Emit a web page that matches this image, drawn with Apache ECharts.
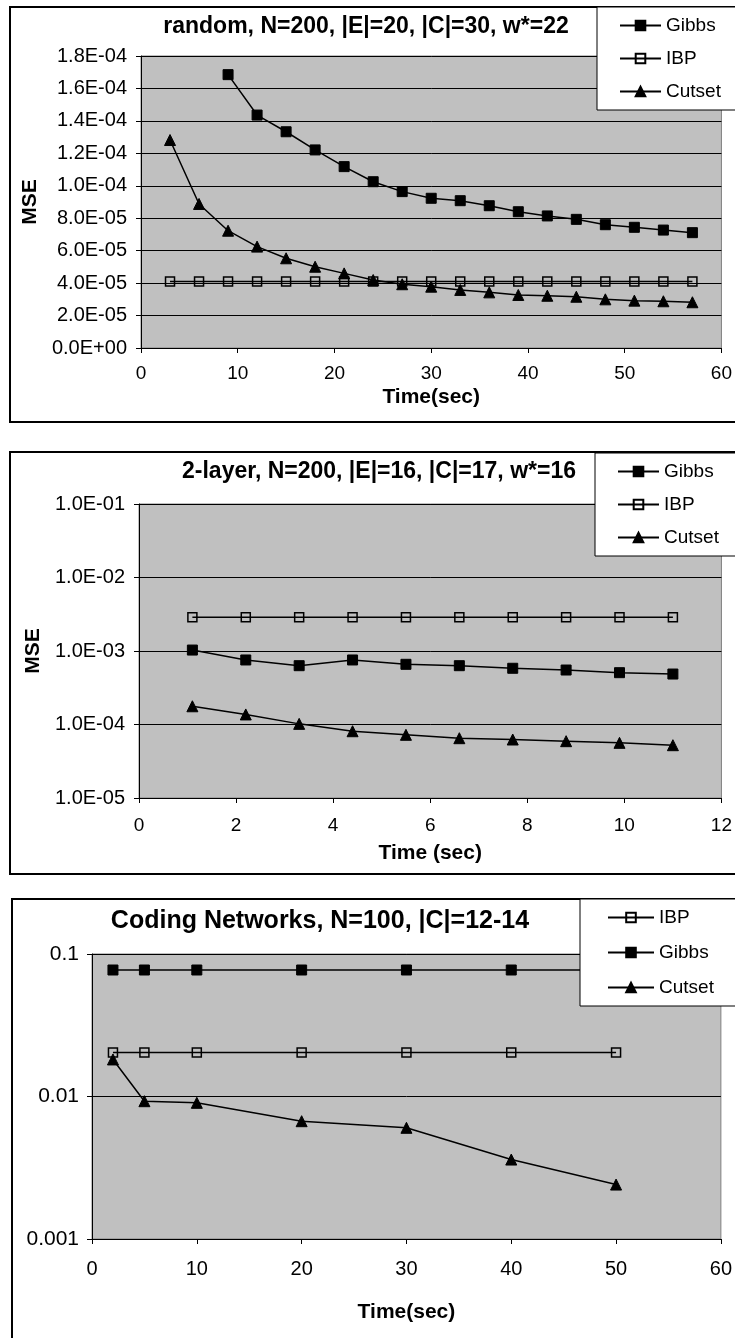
<!DOCTYPE html>
<html>
<head>
<meta charset="utf-8">
<script src="https://cdn.jsdelivr.net/npm/echarts@6/dist/echarts.min.js"></script>
<style>
  html, body { margin: 0; padding: 0; background: #fff; }
  #main { width: 735px; height: 1338px; }
</style>
</head>
<body>
<div id="main"></div>
<script>
// panel 1: random network
var time1 = [3, 6, 9, 12, 15, 18, 21, 24, 27, 30, 33, 36, 39, 42, 45, 48, 51, 54, 57];
var gibbs1 = [null, null, 1.685e-4, 1.436e-4, 1.333e-4, 1.221e-4, 1.118e-4, 1.025e-4, 0.964e-4, 0.923e-4,
  0.908e-4, 0.877e-4, 0.840e-4, 0.814e-4, 0.793e-4, 0.760e-4, 0.744e-4, 0.727e-4, 0.711e-4];
var ibp1 = [4.1e-5, 4.1e-5, 4.1e-5, 4.1e-5, 4.1e-5, 4.1e-5, 4.1e-5, 4.1e-5, 4.1e-5, 4.1e-5,
  4.1e-5, 4.1e-5, 4.1e-5, 4.1e-5, 4.1e-5, 4.1e-5, 4.1e-5, 4.1e-5, 4.1e-5];
var cutset1 = [1.282e-4, 0.888e-4, 0.723e-4, 0.625e-4, 0.553e-4, 0.501e-4, 0.460e-4, 0.419e-4, 0.393e-4, 0.378e-4,
  0.358e-4, 0.343e-4, 0.327e-4, 0.322e-4, 0.316e-4, 0.300e-4, 0.292e-4, 0.288e-4, 0.282e-4];

// panel 2: 2-layer network
var time2 = [1.1, 2.2, 3.3, 4.4, 5.5, 6.6, 7.7, 8.8, 9.9, 11];
var gibbs2 = [1.03e-3, 7.55e-4, 6.31e-4, 7.55e-4, 6.59e-4, 6.31e-4, 5.82e-4, 5.51e-4, 5.07e-4, 4.86e-4];
var ibp2 = [2.88e-3, 2.88e-3, 2.88e-3, 2.88e-3, 2.88e-3, 2.88e-3, 2.88e-3, 2.88e-3, 2.88e-3, 2.88e-3];
var cutset2 = [1.77e-4, 1.37e-4, 1.02e-4, 8.1e-5, 7.24e-5, 6.51e-5, 6.25e-5, 5.93e-5, 5.63e-5, 5.23e-5];

// panel 3: coding networks
var time3 = [2, 5, 10, 20, 30, 40, 50];
var ibp3 = [0.0204, 0.0204, 0.0204, 0.0204, 0.0204, 0.0204, 0.0204];
var gibbs3 = [0.0772, 0.0772, 0.0772, 0.0772, 0.0772, 0.0772, 0.0772];
var cutset3 = [0.0182, 0.00927, 0.00903, 0.00671, 0.00603, 0.00361, 0.00241];

var titles = [
  'random, N=200, |E|=20, |C|=30, w*=22',
  '2-layer, N=200, |E|=16, |C|=17, w*=16',
  'Coding Networks, N=100, |C|=12-14'
];

var FONT = '"Liberation Sans", Arial, sans-serif';

function pairs(xs, ys) {
  return xs.map(function (x, i) { return [x, ys[i]]; });
}

function sci(v) {
  if (v === 0) return '0.0E+00';
  var parts = v.toExponential(1).split('e');
  var n = parseInt(parts[1], 10);
  return parts[0] + 'E' + (n < 0 ? '-' : '+') + String(Math.abs(n)).padStart(2, '0');
}

var chartDom = document.getElementById('main');
var myChart = echarts.init(chartDom);

var styles = {
  Gibbs: { symbol: 'rect', symbolSize: 10, itemStyle: { color: '#000', borderColor: '#000', borderWidth: 1 } },
  IBP: { symbol: 'rect', symbolSize: 9, itemStyle: { color: 'rgba(0,0,0,0)', borderColor: '#000', borderWidth: 1.5 } },
  Cutset: { symbol: 'triangle', symbolSize: 11, itemStyle: { color: '#000', borderColor: '#000', borderWidth: 1 } }
};

function line(name, idx, data) {
  var s = styles[name];
  return {
    name: name,
    type: 'line',
    xAxisIndex: idx,
    yAxisIndex: idx,
    data: data,
    symbol: s.symbol,
    symbolSize: s.symbolSize,
    showSymbol: true,
    itemStyle: s.itemStyle,
    lineStyle: { color: '#000', width: 1.5 },
    connectNulls: false
  };
}

function xAxis(idx, max, interval, name, gap, margin, size) {
  return {
    gridIndex: idx,
    type: 'value',
    min: 0,
    max: max,
    interval: interval,
    name: name,
    nameLocation: 'middle',
    nameGap: gap,
    nameTextStyle: { fontFamily: FONT, fontSize: 21, fontWeight: 'bold', color: '#000' },
    axisLine: { show: true, lineStyle: { color: '#000', width: 1 } },
    axisTick: { show: true, length: 5, lineStyle: { color: '#000' } },
    axisLabel: { fontFamily: FONT, fontSize: size, color: '#000', margin: margin },
    splitLine: { show: false }
  };
}

function legend(left, top, data, gap, padLeft, itemWidth) {
  return {
    orient: 'vertical',
    left: left,
    top: top,
    data: data,
    itemGap: gap,
    itemWidth: itemWidth,
    itemHeight: 12,
    padding: [9, 60, 9, padLeft],
    backgroundColor: '#fff',
    borderColor: '#000',
    borderWidth: 1,
    borderRadius: 0,
    textStyle: { fontFamily: FONT, fontSize: 19, color: '#000', padding: [0, 0, 0, 0] }
  };
}

var gridBase = { show: true, backgroundColor: '#c0c0c0', borderColor: '#808080', borderWidth: 1 };

var option = {
  animation: false,
  backgroundColor: '#fff',
  graphic: [
    { type: 'rect', shape: { x: 10, y: 7, width: 760, height: 415 }, style: { fill: 'none', stroke: '#000', lineWidth: 2 }, z: 0 },
    { type: 'rect', shape: { x: 10, y: 452, width: 760, height: 422 }, style: { fill: 'none', stroke: '#000', lineWidth: 2 }, z: 0 },
    { type: 'rect', shape: { x: 12, y: 899, width: 760, height: 500 }, style: { fill: 'none', stroke: '#000', lineWidth: 2 }, z: 0 }
  ],
  title: [
    { text: titles[0], left: 366, top: 15, textAlign: 'center', padding: 0,
      textStyle: { fontFamily: FONT, fontSize: 23, fontWeight: 'bold', color: '#000' } },
    { text: titles[1], left: 379, top: 460, textAlign: 'center', padding: 0,
      textStyle: { fontFamily: FONT, fontSize: 23, fontWeight: 'bold', color: '#000' } },
    { text: titles[2], left: 320, top: 909, textAlign: 'center', padding: 0,
      textStyle: { fontFamily: FONT, fontSize: 25, fontWeight: 'bold', color: '#000' } }
  ],
  legend: [
    legend(597, 7, ['Gibbs', 'IBP', 'Cutset'], 14, 22, 41),
    legend(595, 453, ['Gibbs', 'IBP', 'Cutset'], 14, 22, 41),
    legend(580, 899, ['IBP', 'Gibbs', 'Cutset'], 16, 27, 46)
  ],
  grid: [
    Object.assign({ left: 141, top: 56, right: 11, height: 292 }, gridBase),
    Object.assign({ left: 139, top: 504, right: 11, height: 294 }, gridBase),
    Object.assign({ left: 92, top: 954, right: 2, height: 285 }, gridBase)
  ],
  xAxis: [
    xAxis(0, 60, 10, 'Time(sec)', 39, 16, 19),
    xAxis(1, 12, 2, 'Time (sec)', 45, 18, 19),
    xAxis(2, 60, 10, 'Time(sec)', 63, 20, 20)
  ],
  yAxis: [
    {
      gridIndex: 0, type: 'value', min: 0, max: 1.8e-4, interval: 2e-5,
      name: 'MSE', nameLocation: 'middle', nameGap: 96, nameRotate: 90,
      nameTextStyle: { fontFamily: FONT, fontSize: 21, fontWeight: 'bold', color: '#000' },
      axisLine: { show: true, lineStyle: { color: '#000' } },
      axisTick: { show: true, length: 5, lineStyle: { color: '#000' } },
      axisLabel: { fontFamily: FONT, fontSize: 20, color: '#000', margin: 14, formatter: sci },
      splitLine: { show: true, lineStyle: { color: '#000', width: 1 } }
    },
    {
      gridIndex: 1, type: 'log', logBase: 10, min: 1e-5, max: 1e-1,
      name: 'MSE', nameLocation: 'middle', nameGap: 94, nameRotate: 90,
      nameTextStyle: { fontFamily: FONT, fontSize: 21, fontWeight: 'bold', color: '#000' },
      axisLine: { show: true, lineStyle: { color: '#000' } },
      axisTick: { show: true, length: 5, lineStyle: { color: '#000' } },
      axisLabel: { fontFamily: FONT, fontSize: 20, color: '#000', margin: 14, formatter: sci },
      splitLine: { show: true, lineStyle: { color: '#000', width: 1 } },
      minorTick: { show: false }
    },
    {
      gridIndex: 2, type: 'log', logBase: 10, min: 1e-3, max: 1e-1,
      axisLine: { show: true, lineStyle: { color: '#000' } },
      axisTick: { show: true, length: 5, lineStyle: { color: '#000' } },
      axisLabel: { fontFamily: FONT, fontSize: 21, color: '#000', margin: 13,
        formatter: function (v) { return String(parseFloat(v.toPrecision(3))); } },
      splitLine: { show: true, lineStyle: { color: '#000', width: 1 } }
    }
  ],
  series: [
    line('Gibbs', 0, pairs(time1, gibbs1)),
    line('IBP', 0, pairs(time1, ibp1)),
    line('Cutset', 0, pairs(time1, cutset1)),
    line('Gibbs', 1, pairs(time2, gibbs2)),
    line('IBP', 1, pairs(time2, ibp2)),
    line('Cutset', 1, pairs(time2, cutset2)),
    line('IBP', 2, pairs(time3, ibp3)),
    line('Gibbs', 2, pairs(time3, gibbs3)),
    line('Cutset', 2, pairs(time3, cutset3))
  ]
};

option && myChart.setOption(option);
</script>
</body>
</html>
